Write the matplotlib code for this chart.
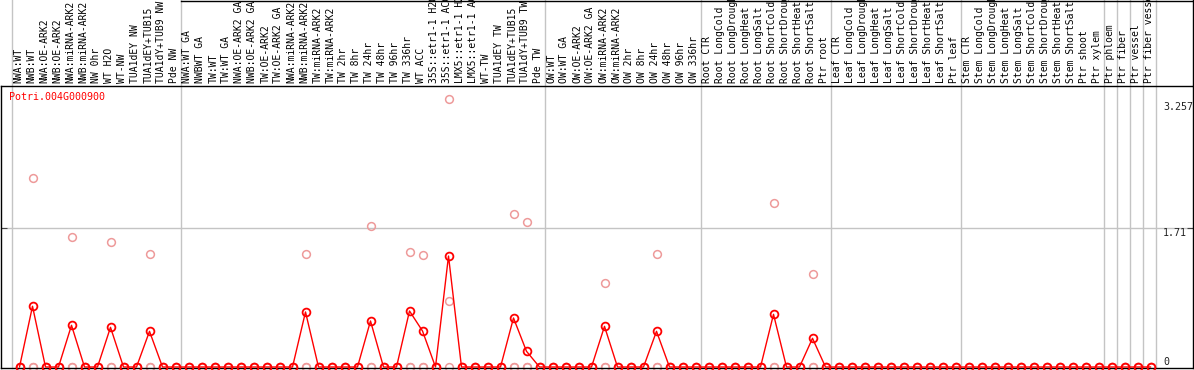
import matplotlib
matplotlib.use('Agg')
import matplotlib.pyplot as plt
from matplotlib.lines import Line2D
from matplotlib.transforms import blended_transform_factory

# sample names, one column each
labels = [
    'NWA:WT', 'NWB:WT', 'NWA:OE-ARK2', 'NWB:OE-ARK2', 'NWA:miRNA-ARK2', 'NWB:miRNA-ARK2',
    'NW 0hr', 'WT H2O', 'WT-NW', 'TUA1dEY NW', 'TUA1dEY+TUB15', 'TUA1dY+TUB9 NW', 'Pde NW',
    'NWA:WT GA', 'NWBWT GA', 'TW:WT', 'TW:WT GA', 'NWA:OE-ARK2 GA', 'NWB:OE-ARK2 GA',
    'TW:OE-ARK2', 'TW:OE-ARK2 GA', 'NWA:miRNA-ARK2', 'NWB:miRNA-ARK2', 'TW:miRNA-ARK2',
    'TW:miRNA-ARK2', 'TW 2hr', 'TW 8hr', 'TW 24hr', 'TW 48hr', 'TW 96hr', 'TW 336hr',
    'WT ACC', '35S::etr1-1 H2O', '35S::etr1-1 ACC', 'LMX5::etr1-1 H2O', 'LMX5::etr1-1 ACC',
    'WT-TW', 'TUA1dEY TW', 'TUA1dEY+TUB15', 'TUA1dY+TUB9 TW', 'Pde TW',
    'OW:WT', 'OW:WT GA', 'OW:OE-ARK2', 'OW:OE-ARK2 GA', 'OW:miRNA-ARK2', 'OW:miRNA-ARK2',
    'OW 2hr', 'OW 8hr', 'OW 24hr', 'OW 48hr', 'OW 96hr', 'OW 336hr',
    'Root CTR', 'Root LongCold', 'Root LongDrought', 'Root LongHeat', 'Root LongSalt',
    'Root ShortCold', 'Root ShortDrought', 'Root ShortHeat', 'Root ShortSalt', 'Ptr root',
    'Leaf CTR', 'Leaf LongCold', 'Leaf LongDrought', 'Leaf LongHeat', 'Leaf LongSalt',
    'Leaf ShortCold', 'Leaf ShortDrought', 'Leaf ShortHeat', 'Leaf ShortSalt', 'Ptr leaf',
    'Stem CTR', 'Stem LongCold', 'Stem LongDrought', 'Stem LongHeat', 'Stem LongSalt',
    'Stem ShortCold', 'Stem ShortDrought', 'Stem ShortHeat', 'Stem ShortSalt', 'Ptr shoot',
    'Ptr xylem', 'Ptr phloem', 'Ptr fiber', 'Ptr vessel', 'Ptr fiber vessel',
]
group_sizes = [13, 28, 12, 10, 10, 11, 1, 1, 1, 1]

# mean expression (red line)
mean_vals = (
    [0, 0.747, 0, 0, 0.513, 0, 0, 0.488, 0, 0, 0.439, 0, 0]
    + [0, 0, 0, 0, 0, 0, 0, 0, 0, 0.677, 0, 0, 0, 0, 0.566, 0, 0, 0.689, 0.443, 0,
       1.365, 0, 0, 0, 0, 0.603, 0.193, 0]
    + [0, 0, 0, 0, 0.50, 0, 0, 0, 0.439, 0, 0, 0]
    + [0, 0, 0, 0, 0, 0.648, 0, 0, 0.353, 0]
    + [0] * 10
    + [0] * 11
    + [0, 0, 0, 0]
)
# replicate values (light markers)
rep_high = (
    [0, 2.321, 0, 0, 1.595, 0, 0, 1.534, 0, 0, 1.386, 0, 0]
    + [0, 0, 0, 0, 0, 0, 0, 0, 0, 1.386, 0, 0, 0, 0, 1.738, 0, 0, 1.41, 1.374, 0,
       3.30, 0, 0, 0, 0, 1.878, 1.784, 0]
    + [0, 0, 0, 0, 1.03, 0, 0, 0, 1.386, 0, 0, 0]
    + [0, 0, 0, 0, 0, 2.013, 0, 0, 1.14, 0]
    + [0] * 10
    + [0] * 11
    + [0, 0, 0, 0]
)
rep_mid = [0] * 33 + [0.812] + [0] * 54
rep_low = [0] * 88

gene = 'Potri.004G000900'
ytick_vals = [3.257, 1.71, 0]
ytick_text = ['3.257', '1.71', '0']

W, H = 1194, 370
fig = plt.figure(figsize=(W / 100, H / 100), dpi=100)
ax = fig.add_axes([1 / W, 2 / H, 1192 / W, 282 / H])

x = list(range(len(labels)))
grey = '#c4c4c4'
mono = 'DejaVu Sans Mono'

# group separators, extended up through the label area
start = 0
bounds = [0]
for n in group_sizes:
    start += n
    bounds.append(start)
for b in bounds:
    ax.axvline(b - 0.615, ymin=0, ymax=368 / 282, color=grey, lw=1.0, clip_on=False, zorder=1)
ax.axhline(1.71, color=grey, lw=1.0, zorder=1)

pink = '#ee9a9a'
for reps in (rep_low, rep_mid, rep_high):
    ax.plot(x, reps, ls='none', marker='o', ms=5.6, mfc='none', mec=pink, mew=1.1,
            clip_on=False, zorder=2)
ax.plot(x, mean_vals, color='#ff0000', lw=1.0, marker='o', ms=5.6, mfc='none',
        mec='#ff0000', mew=1.3, clip_on=False, zorder=3)

ax.set_xlim((1 - 19.5) / 13, (1193 - 19.5) / 13)
ax.set_ylim(-1 / 81.3, 281 / 81.3)
ax.set_xticks([])
ax.set_yticks([1.71])
ax.tick_params(axis='y', direction='in', length=4, left=True, right=True,
               labelleft=False, color='#444444')
for s in ax.spines.values():
    s.set_color('black')
    s.set_linewidth(1.0)

# y value labels on the right
for v, t in zip(ytick_vals, ytick_text):
    ax.text((1163 - 19.5) / 13, v, t, ha='left', va='bottom' if v == 0 else 'top',
            fontsize=7.2, family=mono, color='#222222')

# rotated column labels
tr = blended_transform_factory(ax.transData, fig.transFigure)
for i, lab in enumerate(labels):
    ax.text(i - 0.08, 1 - 83 / H, lab, rotation=90, ha='center', va='bottom',
            fontsize=7, family=mono, transform=tr, clip_on=False)

fig.text(9 / W, 1 - 97 / H, gene, color='#ff0000', fontsize=7.2, family=mono,
         ha='left', va='center')

# outer frame pieces above the plot
fig.add_artist(Line2D([181 / W, 1], [1 - 0.5 / H, 1 - 0.5 / H], color='black', lw=1.0))
fig.add_artist(Line2D([1 - 1 / W, 1 - 1 / W], [1 - 86 / H, 1], color='black', lw=1.0))

fig.savefig('out.png', dpi=100)
